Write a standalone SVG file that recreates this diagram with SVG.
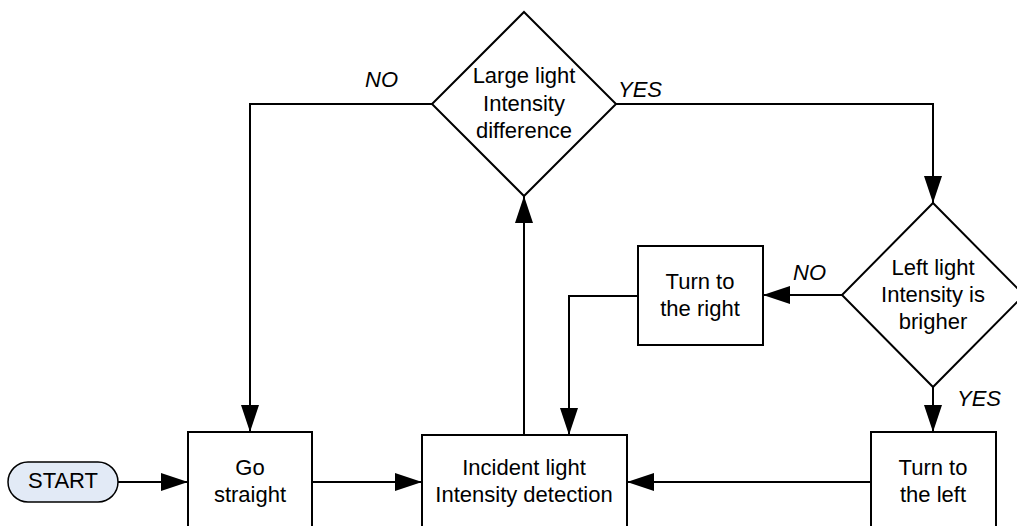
<svg xmlns="http://www.w3.org/2000/svg" width="1017" height="526" viewBox="0 0 1017 526">
<style>
.shape{fill:#ffffff;stroke:#000000;stroke-width:2}
.term{fill:#e2eaf6;stroke:#000000;stroke-width:1.5}
.t{font-family:"Liberation Sans",Arial,sans-serif;font-size:22px;fill:#000000;text-anchor:middle}
.lbl{font-family:"Liberation Sans",Arial,sans-serif;font-size:22px;font-style:italic;fill:#000000}
.conn{fill:none;stroke:#000000;stroke-width:2;marker-end:url(#arr)}
</style>
<defs>
<marker id="arr" markerUnits="userSpaceOnUse" markerWidth="28" markerHeight="18" refX="27" refY="9" orient="auto">
<path d="M0,0 L27,9 L0,18 z" fill="#000000"/>
</marker>
</defs>
<rect width="1017" height="526" fill="#ffffff"/>
<g id="connectors">
<path class="conn" d="M118,482 L188,482"/>
<path class="conn" d="M312,482 L422,482"/>
<path class="conn" d="M524,435 L524,196"/>
<path class="conn" d="M432,104 L250,104 L250,432"/>
<path class="conn" d="M616,104 L933,104 L933,203"/>
<path class="conn" d="M842,295 L763,295"/>
<path class="conn" d="M638,296 L569,296 L569,435"/>
<path class="conn" d="M933,387 L933,432"/>
<path class="conn" d="M871,482 L627,482"/>
</g>
<g id="labels">
<text class="lbl" x="365" y="87">NO</text>
<text class="lbl" x="618" y="97">YES</text>
<text class="lbl" x="793" y="280">NO</text>
<text class="lbl" x="957" y="406">YES</text>
</g>
<g id="start">
<rect class="term" x="8" y="462" width="110" height="40" rx="20" ry="20"/>
<text class="t" x="63" y="488">START</text>
</g>
<g id="go-straight">
<rect class="shape" x="188" y="432" width="124" height="130"/>
<text class="t" x="250" y="475">Go</text>
<text class="t" x="250" y="502">straight</text>
</g>
<g id="detection">
<rect class="shape" x="422" y="435" width="205" height="130"/>
<text class="t" x="524" y="475">Incident light</text>
<text class="t" x="524" y="502">Intensity detection</text>
</g>
<g id="large-diff">
<polygon class="shape" points="524,12 616,104 524,196 432,104"/>
<text class="t" x="524" y="83">Large light</text>
<text class="t" x="524" y="111">Intensity</text>
<text class="t" x="524" y="138">difference</text>
</g>
<g id="left-brighter">
<polygon class="shape" points="933,203 1024,295 933,387 842,295"/>
<text class="t" x="933" y="275">Left light</text>
<text class="t" x="933" y="302">Intensity is</text>
<text class="t" x="933" y="329">brigher</text>
</g>
<g id="turn-right">
<rect class="shape" x="638" y="246" width="125" height="99"/>
<text class="t" x="700" y="289">Turn to</text>
<text class="t" x="700" y="316">the right</text>
</g>
<g id="turn-left">
<rect class="shape" x="871" y="432" width="125" height="130"/>
<text class="t" x="933" y="475">Turn to</text>
<text class="t" x="933" y="502">the left</text>
</g>
</svg>
